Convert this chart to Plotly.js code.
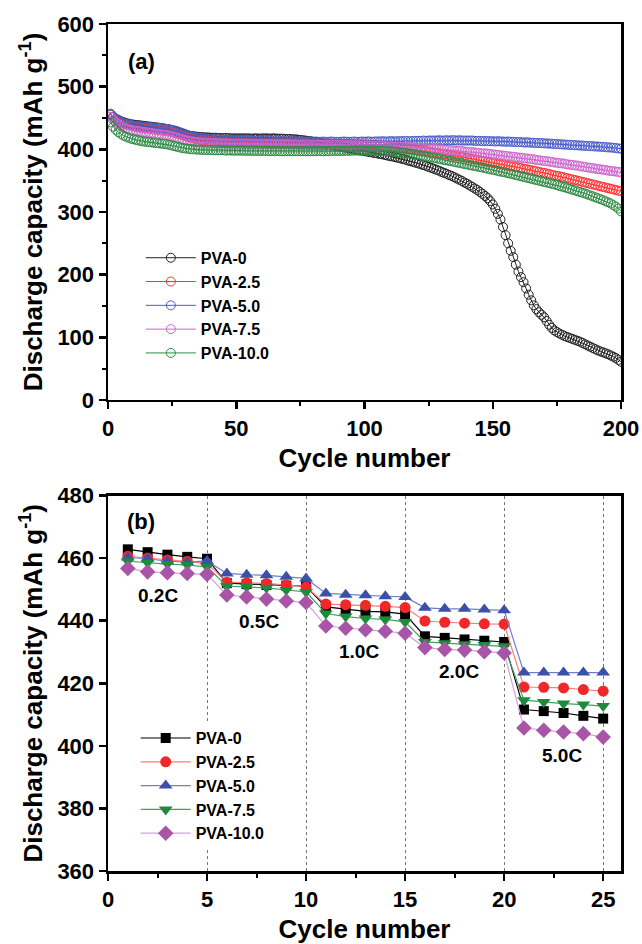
<!DOCTYPE html>
<html>
<head>
<meta charset="utf-8">
<script src="https://cdn.plot.ly/plotly-3.0.1.min.js"></script>
<style>html,body{margin:0;padding:0;background:#fff;}#chart{width:642px;height:944px;}</style>
</head>
<body>
<div id="chart"></div>
<script>
// ---------- Panel (a): cycling performance ----------
const seriesNamesA = ["PVA-0", "PVA-2.5", "PVA-5.0", "PVA-7.5", "PVA-10.0"];
const cyclesA = [];
for (let i = 1; i <= 200; i++) cyclesA.push(i);

const pva0_a = [
456,452,449,447,445,443.5,442,441,440,439.5,
439,438.5,438,437.5,437,436.5,436,435.5,435,434.5,
434,433,432.5,431.5,430.5,429.5,428,426.5,425,423.5,
422.5,421.5,421,420.5,420,419.5,419.5,419,419,418.5,
418.5,418.5,418,418,418,418,418,417.5,417.5,417.5,
417.5,417.5,417.5,417.5,417.5,417,417.5,417.5,417,417.5,
417.5,417.5,417,417.5,417.5,417,417,417,416.5,416.5,
416.5,416,416,415.5,415,414.5,414,413.5,413,412,
411.5,411,410,409.5,408.5,408,407,406,405.5,404.5,
404,403,402.5,401.5,401,400,399.5,398.5,398,397,
396.5,395.5,395,394,393.5,392.5,392,391,390,389,
388.5,387.5,386.5,385.5,384.5,383.5,382,381,380,378.5,
377.5,376,375,373.5,372,370.5,369,367.5,366,364,
362.5,361,359,357.5,355.5,353.5,351.5,349.5,347,345,
342.5,340,337.5,335,332,329,325.5,322,317.5,312,
305,297,288,276,263,250,238,228,216,205,
196,188,178,168,159,151,145,140,136,132,
126,120,115,111,108.5,106,104,102,100.5,99,
97.5,96,94.5,93,91,89,87,85,83,81,
79,77.5,76,74.5,73,71,69,67,64,61];

const pva25_a = [
457,452,448,445,443,441,439.5,438.5,437.5,436.5,
436,435,434.5,434,433.5,433,432.5,432,431.5,431,
430.5,430,429.5,428.5,427.5,426.5,425,424,422.5,421,
419.5,418.5,417.5,416.5,416,415,414.5,414,413.5,413,
413,412.5,412.5,412,412,412,411.5,411.5,411.5,411.5,
411.5,411,411,411,411,411,411,410.5,411,410.5,
410.5,410.5,410.5,410.5,410.5,410.5,410,410.5,410,410,
410,410,410,410,410,409.5,410,409.5,409.5,409.5,
409.5,409.5,409.5,409.5,409,409.5,409,409,409,409,
409,408.5,408.5,408.5,408.5,408,408,408,407.5,407.5,
407.5,407,407,406.5,406.5,406,405.5,405.5,405,404.5,
404,403.5,403,402.5,402,401.5,401,400.5,400,399.5,
399,398.5,397.5,397,396.5,396,395,394.5,394,393,
392.5,392,391,390.5,389.5,389,388.5,387.5,387,386,
385.5,384.5,384,383,382.5,381.5,381,380,379.5,378.5,
378,377,376,375.5,374.5,374,373,372.5,371.5,371,
370,369,368.5,367.5,366.5,366,365,364,363,362.5,
361.5,360.5,359.5,358.5,357.5,357,356,355,354,353,
352,351,350,349,348,347,346,345,344,343,
342,341,340,339,338,337,336,335,334,333];

const pva50_a = [
455,451,448,446,444,442,441,440,439,438,
437.5,437,436.5,436,436,435.5,435,434.5,434,434,
433.5,433,432.5,432,431,430,429,427.5,426,424.5,
423,421.5,420.5,419.5,418.5,418,417.5,417,416.5,416,
416,415.5,415.5,415,415,415,414.5,414.5,414.5,414,
414,414,414,413.5,414,413.5,413.5,413.5,413,413.5,
413,413,413.5,413,413,412.5,413,413,412.5,413,
412.5,412.5,413,412.5,412.5,412.5,412,412.5,412.5,412,
412.5,412,412,412.5,412,412,412.5,412,412,412,
412,412.5,412,412,412,412.5,412,412,412.5,412,
412.5,412.5,412,412.5,412.5,412.5,413,412.5,412.5,413,
413,412.5,413,413,413,413.5,413,413,413.5,413.5,
413.5,413.5,414,413.5,414,414,414,414,414.5,414,
414,414.5,414,414.5,414.5,414,414.5,414,414,414,
414,414,413.5,413.5,413.5,413,413.5,413,413,413,
412.5,413,412.5,412.5,412,412.5,412,412,411.5,411.5,
411.5,411,411,411,410.5,410.5,410,410,410,409.5,
409.5,409,409,408.5,408.5,408,408,407.5,407.5,407,
407,406.5,406.5,406,406,405.5,405.5,405,405,404.5,
404.5,404,404,403.5,403,403,402.5,402,401.5,401];

const pva75_a = [
452,447,443,440,437.5,435,433.5,432,431,430,
429.5,429,428,427.5,427,426.5,426,425,424.5,424,
423.5,423,422.5,421.5,420.5,419.5,418.5,417,416,415,
414,413,412.5,412,411.5,411,411,410.5,410.5,410,
410,410,409.5,409.5,409.5,409.5,409,409,409,409,
409,409,408.5,409,408.5,408.5,408.5,408.5,408.5,408.5,
408.5,408,408.5,408,408,408,408,408,408,408,
408,407.5,408,407.5,407.5,407.5,407.5,407.5,407,407.5,
407,407.5,407,407,407,407,407,406.5,407,406.5,
406.5,406.5,406.5,406.5,406.5,406,406.5,406,406,406,
406,406,405.5,405.5,405.5,405,405,405,404.5,404.5,
404.5,404,404,404,403.5,403.5,403,403,403,402.5,
402.5,402,402,401.5,401.5,401,401,400.5,400,400,
399.5,399,399,398.5,398,397.5,397.5,397,396.5,396,
395.5,395.5,395,394.5,394,393.5,393.5,393,392.5,392,
391.5,391,390.5,390,389.5,389,388.5,388,387.5,387,
386.5,386,385.5,385,384.5,384,383,382.5,382,381.5,
381,380.5,380,379,378.5,378,377.5,377,376,375.5,
375,374.5,374,373,372.5,372,371,370.5,370,369,
368.5,368,367.5,367,366,365.5,365,364.5,364,363];

const pva100_a = [
443,436,431,427.5,424.5,422,420,418.5,417,416,
415,414,413,412.5,412,411.5,411,410.5,410,409.5,
409,408.5,408,407,406,405,404,403,402,401.5,
401,400.5,400,400,399.5,399.5,399,399,399,399,
398.5,398.5,398.5,398.5,398.5,398,398.5,398,398,398,
398,398,398,397.5,398,397.5,397.5,397.5,397.5,397.5,
397.5,397.5,397,397.5,397,397.5,397,397,397,397,
397,397,397,397,397,397,397,397,397,397,
397,397.5,397,397,397.5,397,397.5,397.5,397.5,397.5,
397.5,397.5,398,397.5,398,398,398,398,398,398,
398,398,398,398,397.5,397.5,397.5,397,397,396.5,
396.5,396,395.5,395,394.5,394,393.5,393,392,391.5,
391,390,389.5,388.5,388,387,386.5,385.5,385,384,
383,382.5,381.5,381,380,379,378.5,377.5,376.5,376,
375,374,373.5,372.5,371.5,371,370,369,368,367.5,
366.5,365.5,364.5,364,363,362,361,360,359,358,
357,356,355,354,353,352,351,350,349,348,
347,346,345,344,343,341.5,340.5,339.5,338,337,
335.5,334.5,333,332,330.5,329.5,328,326.5,325,323.5,
322,320.5,319,317,315.5,313.5,311,308.5,305.5,301];

// ---------- Panel (b): rate performance ----------
const cyclesB = [1,2,3,4,5,6,7,8,9,10,11,12,13,14,15,16,17,18,19,20,21,22,23,24,25];
const pva0_b  = [462.8,461.9,461.1,460.4,459.8,452.0,451.7,451.4,451.2,451.0,444.4,443.6,443.0,442.8,442.1,435.0,434.5,434.0,433.6,433.2,411.6,411.1,410.5,409.6,408.7];
const pva25_b = [460.6,460.0,459.4,459.0,458.3,452.3,452.1,451.9,451.4,450.8,445.3,445.1,444.9,444.6,444.2,439.9,439.5,439.2,439.0,438.9,418.8,418.7,418.5,418.0,417.5];
const pva50_b = [460.2,459.8,459.0,458.7,459.1,455.1,454.7,454.5,454.0,453.5,448.7,448.3,448.1,447.8,447.6,444.1,443.8,443.8,443.6,443.3,423.4,423.4,423.4,423.4,423.4];
const pva75_b = [459.0,458.5,458.1,457.8,457.2,451.0,450.8,450.5,449.8,449.2,442.3,441.3,440.7,440.4,439.6,433.2,432.8,432.5,432.2,431.8,414.6,414.0,413.5,413.2,412.7];
const pva100_b= [456.7,455.6,455.3,455.1,454.8,448.2,447.6,446.9,446.3,445.8,438.3,437.6,437.1,436.6,436.0,431.4,430.8,430.6,430.1,429.7,405.7,405.0,404.4,403.9,402.8];
const rateLabels = ["0.2C","0.5C","1.0C","2.0C","5.0C"];
const rateLabelX = [2.5, 7.6, 12.67, 17.7, 22.9];
const rateLabelY = [447.9, 439.6, 430.0, 423.9, 397.0];

const FONT = "Liberation Sans, Arial, Helvetica, sans-serif";

const colorsA = ["#222222", "#ff3030", "#4a5cc8", "#cc66cc", "#2e8b45"];
const dataA = [pva0_a, pva25_a, pva50_a, pva75_a, pva100_a];
const traces = [];
dataA.forEach((ys, i) => {
  traces.push({
    x: cyclesA, y: ys, name: seriesNamesA[i], type: "scatter", mode: "lines+markers",
    xaxis: "x", yaxis: "y", legend: "legend",
    line: {color: colorsA[i], width: 1},
    marker: {symbol: "circle-open", size: 9, color: colorsA[i], line: {width: 1, color: colorsA[i]}}
  });
});

const markerColB = ["#000000", "#f0282a", "#3c50a8", "#1f8a3c", "#a855a8"];
const lineColB = ["#000000", "#ff7a7a", "#6f80c8", "#40a060", "#d9a0d9"];
const symB = ["square", "circle", "triangle-up", "triangle-down", "diamond"];
const sizeB = [10, 11, 12, 12, 12];
const dataB = [pva0_b, pva25_b, pva50_b, pva75_b, pva100_b];
dataB.forEach((ys, i) => {
  traces.push({
    x: cyclesB, y: ys, name: seriesNamesA[i], type: "scatter", mode: "lines+markers",
    xaxis: "x2", yaxis: "y2", legend: "legend2",
    line: {color: lineColB[i], width: 1.2},
    marker: {symbol: symB[i], size: sizeB[i], color: markerColB[i], line: {width: 0}}
  });
});

const tickFont = {family: FONT, size: 22, color: "#000", weight: "bold"};
const titleFont = {family: FONT, size: 26, color: "#000", weight: "bold"};
const legFont = {family: FONT, size: 16, color: "#000", weight: "bold"};

const baseAxis = {
  showline: true, linecolor: "#000", linewidth: 2.5, mirror: true,
  ticks: "outside", ticklen: 7, tickwidth: 2.5, tickcolor: "#000",
  tickfont: tickFont, zeroline: false, showgrid: false
};

const annotations = [
  {text: "(a)", x: 13.1, y: 539.8, xref: "x", yref: "y", showarrow: false,
   font: {family: FONT, size: 22, color: "#000", weight: "bold"}},
  {text: "(b)", x: 1.65, y: 471.6, xref: "x2", yref: "y2", showarrow: false,
   font: {family: FONT, size: 22, color: "#000", weight: "bold"}}
];
rateLabels.forEach((t, i) => {
  annotations.push({text: t, x: rateLabelX[i], y: rateLabelY[i], xref: "x2", yref: "y2",
    showarrow: false, font: {family: FONT, size: 19, color: "#000", weight: "bold"}});
});

const layout = {
  width: 642, height: 944,
  margin: {l: 108, r: 21, t: 24, b: 73},
  paper_bgcolor: "#fff", plot_bgcolor: "#fff",
  showlegend: true,
  xaxis: Object.assign({}, baseAxis, {
    anchor: "y", range: [0, 200], dtick: 50, tick0: 0,
    minor: {dtick: 25, ticks: "outside", ticklen: 4, tickwidth: 2, tickcolor: "#000"},
    title: {text: "Cycle number", font: titleFont, standoff: 9}
  }),
  yaxis: Object.assign({}, baseAxis, {
    anchor: "x", domain: [0.5561, 1], range: [0, 600], dtick: 100, tick0: 0,
    minor: {dtick: 50, ticks: "outside", ticklen: 4, tickwidth: 2, tickcolor: "#000"},
    title: {text: "Discharge capacity (mAh g<sup>-1</sup>)", font: titleFont, standoff: 8}
  }),
  xaxis2: Object.assign({}, baseAxis, {
    anchor: "y2", range: [0, 25.9], dtick: 5, tick0: 0,
    showgrid: true, gridcolor: "#777", gridwidth: 1, griddash: "dot",
    minor: {dtick: 2.5, ticks: "outside", ticklen: 4, tickwidth: 2, tickcolor: "#000", showgrid: false},
    title: {text: "Cycle number", font: titleFont, standoff: 12}
  }),
  yaxis2: Object.assign({}, baseAxis, {
    anchor: "x2", domain: [0, 0.4433], range: [360, 480], dtick: 20, tick0: 360,
    title: {text: "Discharge capacity (mAh g<sup>-1</sup>)", font: titleFont, standoff: 8}
  }),
  legend: {x: 0.064, y: 0.744, xanchor: "left", yanchor: "top", bgcolor: "rgba(255,255,255,0)",
    borderwidth: 0, font: legFont, tracegroupgap: 0, itemwidth: 50},
  legend2: {x: 0.054, y: 0.177, xanchor: "left", yanchor: "top", bgcolor: "#ffffff",
    borderwidth: 0, font: legFont, tracegroupgap: 0, itemwidth: 50},
  annotations: annotations
};

Plotly.newPlot("chart", traces, layout, {displayModeBar: false, staticPlot: true});
</script>
</body>
</html>
